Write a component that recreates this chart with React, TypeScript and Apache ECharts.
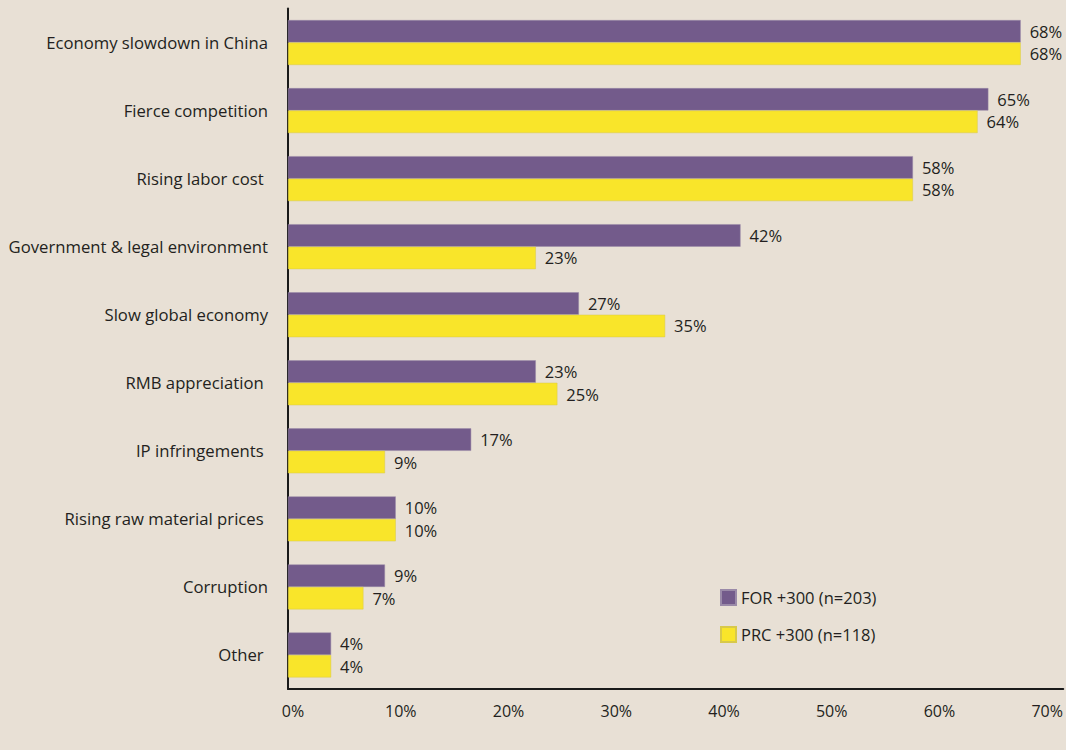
import React, { useEffect, useRef } from "react";
import * as echarts from "echarts";

const categories = [
  "Economy slowdown in China",
  "Fierce competition",
  "Rising labor cost ",
  "Government & legal environment",
  "Slow global economy",
  "RMB appreciation ",
  "IP infringements ",
  "Rising raw material prices ",
  "Corruption",
  "Other ",
];
const forValues = [68, 65, 58, 42, 27, 23, 17, 10, 9, 4];
const prcValues = [68, 64, 58, 23, 35, 25, 9, 10, 7, 4];
const seriesNames = ["FOR +300 (n=203)", "PRC +300 (n=118)"];
const tickStep = 10;
const axisMax = 71.95;

const FONT = "'Open Sans', sans-serif";
const TXT = "#231f20";

export default function App() {
  const ref = useRef<HTMLDivElement>(null);
  useEffect(() => {
    document.body.style.margin = "0";
    const chart = echarts.init(ref.current!, null, { renderer: "svg" });
    const label = {
      show: true,
      position: "right",
      distance: 9,
      formatter: "{c}%",
      color: TXT,
      fontFamily: FONT,
      fontSize: 16.5,
    };
    chart.setOption({
      animation: false,
      backgroundColor: "#e8e0d5",
      textStyle: { fontFamily: FONT },
      grid: { left: 288, right: -4, top: 8.5, bottom: 61, containLabel: false },
      legend: {
        orient: "vertical",
        left: 715,
        top: 584,
        itemWidth: 15,
        itemHeight: 15,
        itemGap: 20,
        icon: "rect",
        textStyle: { fontFamily: FONT, fontSize: 16.5, color: TXT },
        data: seriesNames,
      },
      xAxis: {
        type: "value",
        min: 0,
        max: axisMax,
        interval: tickStep,
        axisLine: { show: true, lineStyle: { color: "#1a1a1a", width: 2 } },
        axisTick: { show: false },
        splitLine: { show: false },
        axisLabel: {
          formatter: (v: number) => (Math.abs(v % tickStep) < 1e-6 ? v + "%" : ""),
          color: TXT,
          fontFamily: FONT,
          fontSize: 16,
          margin: 14,
          padding: [0, 0, 0, 10],
          showMaxLabel: false,
        },
      },
      yAxis: {
        type: "category",
        inverse: true,
        data: categories,
        axisLine: { show: true, lineStyle: { color: "#1a1a1a", width: 2 } },
        axisTick: { show: false },
        axisLabel: {
          color: TXT,
          fontFamily: FONT,
          fontSize: 16.7,
          margin: 20,
        },
      },
      series: [
        {
          name: seriesNames[0],
          type: "bar",
          data: forValues,
          barGap: "0%",
          barCategoryGap: "34%",
          itemStyle: { color: "#735b8b", borderColor: "#9a8aa8", borderWidth: 0.5 },
          label,
        },
        {
          name: seriesNames[1],
          type: "bar",
          data: prcValues,
          itemStyle: { color: "#f9e52a", borderColor: "#d8c94a", borderWidth: 0.5 },
          label,
        },
      ],
    });
    return () => chart.dispose();
  }, []);
  return <div ref={ref} style={{ width: 1066, height: 750 }} />;
}
